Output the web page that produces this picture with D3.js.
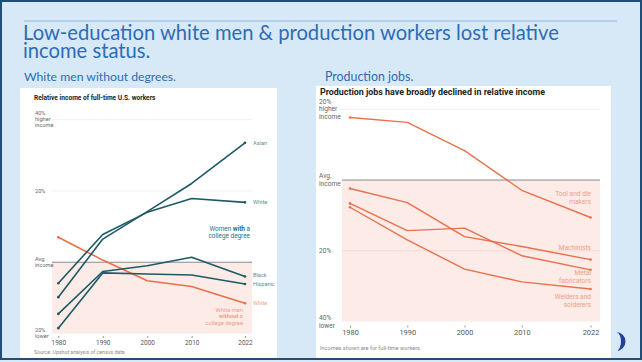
<!DOCTYPE html>
<html>
<head>
<meta charset="utf-8">
<script src="https://cdn.jsdelivr.net/npm/d3@7"></script>
<style>
  body { margin: 0; background: #fff; }
  svg { display: block; }
  .tick line { stroke: #999; }
</style>
</head>
<body>
<svg id="chart" width="642" height="362"></svg>
<script>
// data (percent above/below average income)
var years = [1980, 1990, 2000, 2010, 2022];

var asianWomen = [-9.8, 6.5, 14.2, 22.1, 33.5];
var whiteWomen = [-5.9, 7.8, 14.0, 17.9, 16.8];
var blackWomen = [-14.5, -2.6, -1.0, 1.4, -4.0];
var hispanicWomen = [-18.5, -3.0, -3.3, -3.6, -6.1];
var whiteMenNoDegree = [7.0, 0.6, -5.2, -6.8, -11.5];

var toolDie = [17.7, 16.3, 8.3, -2.9, -10.6];
var machinists = [-2.4, -6.4, -16.0, -18.8, -22.5];
var metalFab = [-6.6, -14.3, -13.6, -21.4, -25.4];
var welders = [-7.7, -16.9, -25.2, -28.8, -30.8];

var leftTicks = [40, 20, 0, -20];
var rightTicks = [20, 0, -20, -40];

var teal = "#1d5a66", orange = "#e8714c";
var tealLabel = "#5d8b95", orangeLabel = "#ee9f86";
var chartFont = "Roboto, 'Liberation Sans', sans-serif";

var svg = d3.select("#chart");

// slide
svg.append("rect").attr("x", 0).attr("y", 0).attr("width", 642).attr("height", 362)
  .attr("fill", "#d7e9f6");
svg.append("line").attr("x1", 24).attr("x2", 617).attr("y1", 21).attr("y2", 21)
  .attr("stroke", "#8fb6dc").attr("stroke-width", 1);

svg.append("text").attr("x", 23).attr("y", 39.5)
  .attr("font-family", "Lato, sans-serif").attr("font-size", 20.2).attr("fill", "#2c6cb8")
  .text("Low-education white men & production workers lost relative");
svg.append("text").attr("x", 23).attr("y", 57.5)
  .attr("font-family", "Lato, sans-serif").attr("font-size", 20.2).attr("fill", "#2c6cb8")
  .text("income status.");

svg.append("text").attr("x", 24).attr("y", 80.5)
  .attr("font-family", "Lato, sans-serif").attr("font-size", 12.2).attr("fill", "#2c6cb8")
  .text("White men without degrees.");
svg.append("text").attr("x", 325).attr("y", 80.5)
  .attr("font-family", "Lato, sans-serif").attr("font-size", 12.4).attr("fill", "#2c6cb8")
  .text("Production jobs.");

// panels
svg.append("rect").attr("x", 20).attr("y", 88).attr("width", 257).attr("height", 272).attr("fill", "#fff");
svg.append("rect").attr("x", 316).attr("y", 86).attr("width", 295).attr("height", 274).attr("fill", "#fff");

//helper for multi line labels
function label(g, x, y, lines, opts) {
  var t = g.append("text")
    .attr("font-family", chartFont)
    .attr("font-size", opts.size)
    .attr("fill", opts.color)
    .attr("text-anchor", opts.anchor || "start");
  lines.forEach(function(l, i) {
    var ts = t.append("tspan").attr("x", x).attr("y", y + i * opts.lh);
    if (typeof l === "string") ts.text(l);
    else l.forEach(function(part) {
      ts.append("tspan").attr("font-weight", part.b ? 700 : 400).text(part.t);
    });
  });
  return t;
}

function drawChart(cfg) {
  var g = svg.append("g");
  var x = d3.scaleLinear().domain([1980, 2022]).range(cfg.xr);
  var y = d3.scaleLinear().domain(cfg.yd).range(cfg.yr);

  // shaded below average area
  g.append("rect")
    .attr("x", cfg.px0).attr("width", cfg.px1 - cfg.px0)
    .attr("y", y(0)).attr("height", y(cfg.yd[0]) - y(0))
    .attr("fill", "#fcebe6");

  // gridlines
  cfg.ticks.forEach(function(t) {
    if (t === cfg.yd[0]) return;
    g.append("line")
      .attr("x1", cfg.px0).attr("x2", cfg.px1)
      .attr("y1", y(t)).attr("y2", y(t))
      .attr("stroke", t === 0 ? "#8a8a8a" : (t < 0 ? "#f2d9d1" : "#ececec"))
      .attr("stroke-width", t === 0 ? 1 : 0.8);
  });

  // y tick labels
  cfg.ticks.forEach(function(t) {
    var lines, top;
    if (t === 0) { lines = ["Avg.", "income"]; top = y(t) - cfg.lh * 0.25; }
    else if (t === cfg.yd[1]) { lines = [Math.abs(t) + "%", "higher", "income"]; top = y(t) - cfg.lh * 0.75; }
    else if (t === cfg.yd[0]) { lines = [Math.abs(t) + "%", "lower"]; top = y(t) - cfg.lh * 0.2; }
    else { lines = [Math.abs(t) + "%"]; top = y(t) + cfg.fs * 0.35; }
    label(g, cfg.lx, top, lines, {size: cfg.fs, color: "#666", lh: cfg.lh});
  });

  // x axis
  var ax = g.append("g")
    .attr("transform", "translate(0," + cfg.axisY + ")")
    .call(d3.axisBottom(x).tickValues(years).tickFormat(d3.format("d")).tickSize(2).tickPadding(2));
  ax.select(".domain").remove();
  ax.selectAll("text").attr("font-family", chartFont).attr("font-size", cfg.fs + 0.8).attr("fill", "#555");

  var line = d3.line()
    .x(function(d, i) { return x(years[i]); })
    .y(function(d) { return y(d); });

  cfg.series.forEach(function(s) {
    g.append("path").datum(s.values)
      .attr("d", line)
      .attr("fill", "none")
      .attr("stroke", s.color)
      .attr("stroke-width", cfg.sw)
      .attr("stroke-linejoin", "round");
    [0, s.values.length - 1].forEach(function(i) {
      g.append("circle")
        .attr("cx", x(years[i])).attr("cy", y(s.values[i]))
        .attr("r", 1.3).attr("fill", s.color);
    });
  });
  return {g: g, x: x, y: y};
}

// left chart
var left = drawChart({
  xr: [58.3, 245], yd: [-20, 40], yr: [333.5, 119.7],
  px0: 52, px1: 252, ticks: leftTicks, lx: 35, fs: 5.6, lh: 6.2, axisY: 336, sw: 1.6,
  series: [
    {values: whiteMenNoDegree, color: orange},
    {values: asianWomen, color: teal},
    {values: whiteWomen, color: teal},
    {values: blackWomen, color: teal},
    {values: hispanicWomen, color: teal}
  ]
});
svg.append("text").attr("x", 34).attr("y", 99.5)
  .attr("font-family", chartFont).attr("font-size", 6.6).attr("font-weight", 700).attr("fill", "#222")
  .text("Relative income of full-time U.S. workers");
label(left.g, 253, left.y(asianWomen[4]) + 2, ["Asian"], {size: 5.6, color: tealLabel, lh: 6});
label(left.g, 253, left.y(whiteWomen[4]) + 2, ["White"], {size: 5.6, color: tealLabel, lh: 6});
label(left.g, 253, left.y(blackWomen[4]) + 1, ["Black"], {size: 5.6, color: tealLabel, lh: 6});
label(left.g, 253, left.y(hispanicWomen[4]) + 2.5, ["Hispanic"], {size: 5.6, color: tealLabel, lh: 6});
label(left.g, 253, left.y(whiteMenNoDegree[4]) + 2, ["White"], {size: 5.6, color: orangeLabel, lh: 6});
label(left.g, 250, 231, [[{t: "Women "}, {t: "with", b: true}, {t: " a"}], "college degree"],
  {size: 6.4, color: "#2c6e7d", lh: 7, anchor: "end"});
label(left.g, 243, 311.5, ["White men", [{t: "without", b: true}, {t: " a"}], "college degree"],
  {size: 5.8, color: orangeLabel, lh: 6.5, anchor: "end"});
svg.append("text").attr("x", 34).attr("y", 353.5)
  .attr("font-family", chartFont).attr("font-size", 5.2).attr("fill", "#888")
  .text("Source: Upshot analysis of census data");

// right chart
var right = drawChart({
  xr: [350, 590.5], yd: [-40, 20], yr: [321.5, 109.3],
  px0: 342, px1: 600, ticks: rightTicks, lx: 319, fs: 6.6, lh: 7.6, axisY: 325.5, sw: 1.4,
  series: [
    {values: toolDie, color: orange},
    {values: machinists, color: orange},
    {values: metalFab, color: orange},
    {values: welders, color: orange}
  ]
});
svg.append("text").attr("x", 320).attr("y", 94.5)
  .attr("font-family", chartFont).attr("font-size", 8.9).attr("font-weight", 700).attr("fill", "#222")
  .text("Production jobs have broadly declined in relative income");
label(right.g, 591, 195.5, ["Tool and die", "makers"], {size: 6.6, color: orangeLabel, lh: 8, anchor: "end"});
label(right.g, 591, 249.5, ["Machinists"], {size: 6.6, color: orangeLabel, lh: 8, anchor: "end"});
label(right.g, 591, 275, ["Metal", "fabricators"], {size: 6.6, color: orangeLabel, lh: 8, anchor: "end"});
label(right.g, 591, 299, ["Welders and", "solderers"], {size: 6.6, color: orangeLabel, lh: 8, anchor: "end"});
svg.append("text").attr("x", 320).attr("y", 350)
  .attr("font-family", chartFont).attr("font-size", 5.6).attr("fill", "#888")
  .text("Incomes shown are for full-time workers.");

// logo fragment
svg.append("path")
  .attr("d", "M616,332 A9.5,9.5 0 0 1 616,351 A5,9.5 0 0 0 616,332 Z")
  .attr("fill", "#1f3f9a");

// slide border
svg.append("rect").attr("x", 1).attr("y", 1).attr("width", 640).attr("height", 358)
  .attr("fill", "none").attr("stroke", "#1f4e79").attr("stroke-width", 2);
</script>
</body>
</html>
